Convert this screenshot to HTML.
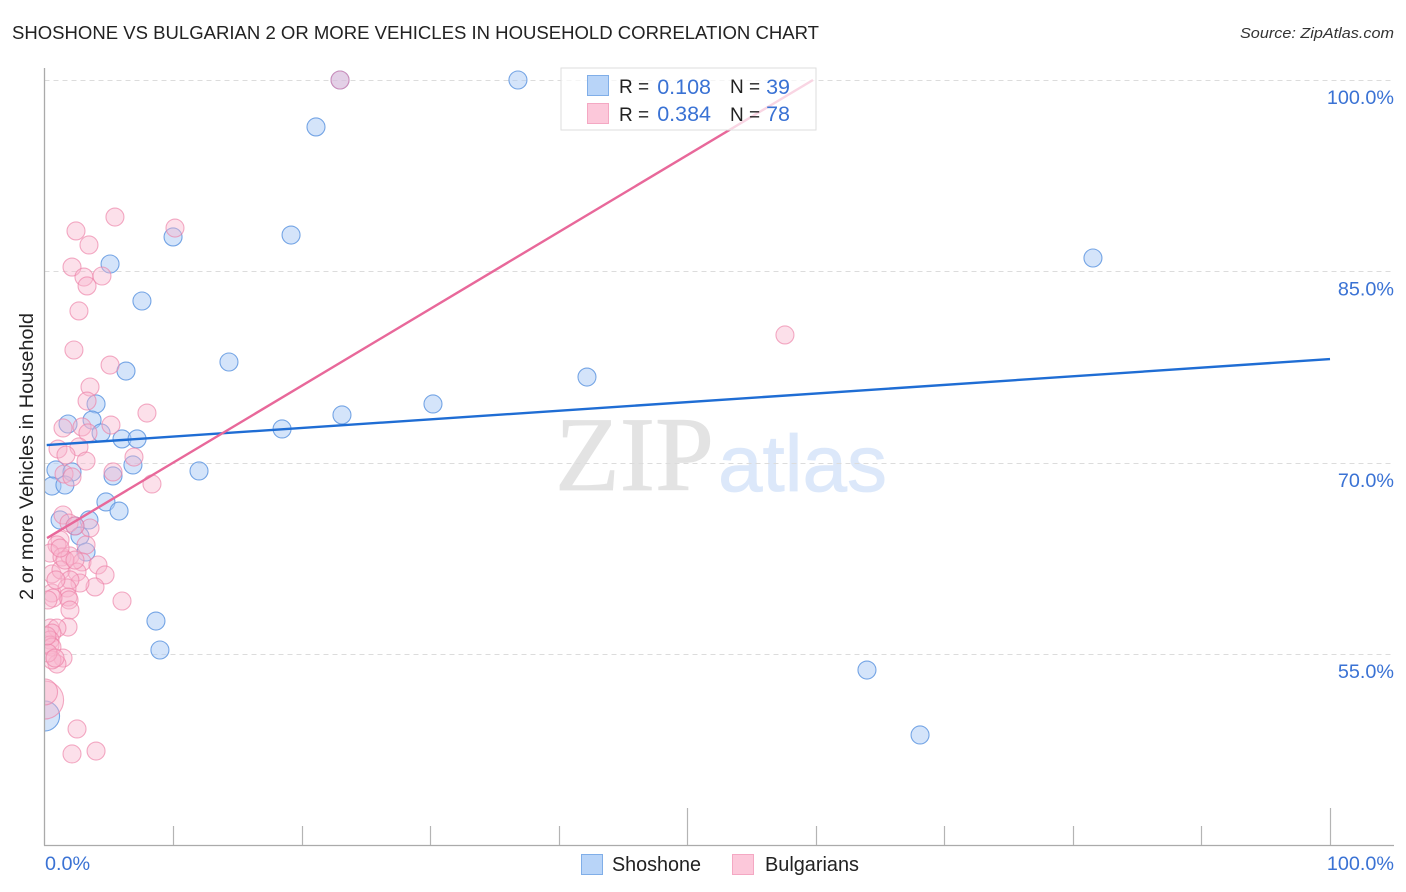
<!DOCTYPE html>
<html lang="en">
<head>
<meta charset="utf-8">
<title>Shoshone vs Bulgarian 2 or more Vehicles in Household Correlation Chart</title>
<style>
html,body{margin:0;padding:0;background:#fff;width:1406px;height:892px;overflow:hidden}
svg{display:block;font-family:"Liberation Sans",sans-serif}
</style>
</head>
<body>
<svg id="chart" xmlns="http://www.w3.org/2000/svg" width="1406" height="892" viewBox="0 0 1406 892">
  <rect width="1406" height="892" fill="#fff"/>
  <text x="12" y="39" font-size="18" fill="#222" textLength="807" lengthAdjust="spacingAndGlyphs">SHOSHONE VS BULGARIAN 2 OR MORE VEHICLES IN HOUSEHOLD CORRELATION CHART</text>
  <text x="1394" y="38" font-size="15" font-style="italic" fill="#333" text-anchor="end" textLength="154" lengthAdjust="spacingAndGlyphs">Source: ZipAtlas.com</text>
  <text x="555" y="490" font-size="106" fill="#e3e3e3" stroke="#e3e3e3" stroke-width="0.8" style="font-family:'Liberation Serif',serif">ZIP</text>
  <text x="718" y="491" font-size="80" fill="#dce8fa" stroke="#dce8fa" stroke-width="0.8">atlas</text>
  <g id="grid"></g>
  <g id="points-shoshone"></g>
  <g id="points-bulgarian"></g>
  <rect x="0" y="60" width="44.5" height="790" fill="#fff"/>
  <text transform="translate(33,456.5) rotate(-90)" font-size="19" fill="#222" text-anchor="middle" textLength="287" lengthAdjust="spacingAndGlyphs">2 or more Vehicles in Household</text>
  <g id="axes"></g>
  <g id="trends"></g>

  <g>
    <rect x="561" y="68" width="255" height="62" fill="#fff" fill-opacity="0.72" stroke="#dedede" stroke-width="1"/>
    <rect x="587.5" y="75.5" width="21" height="20" fill="#b8d4f8" stroke="#80aee8"/>
    <rect x="587.5" y="103.5" width="21" height="20" fill="#fcc8da" stroke="#f4a8c3"/>
    <text x="619" y="93" font-size="19" fill="#222">R =</text>
    <text x="711" y="94" font-size="21.5" fill="#3a72d4" text-anchor="end">0.108</text>
    <text x="730" y="93" font-size="19" fill="#222">N =</text>
    <text x="790" y="94" font-size="21.5" fill="#3a72d4" text-anchor="end">39</text>
    <text x="619" y="121" font-size="19" fill="#222">R =</text>
    <text x="711" y="121" font-size="21.5" fill="#3a72d4" text-anchor="end">0.384</text>
    <text x="730" y="121" font-size="19" fill="#222">N =</text>
    <text x="790" y="121" font-size="21.5" fill="#3a72d4" text-anchor="end">78</text>
  </g>

  <g>
    <rect x="581.5" y="854.5" width="21" height="20" fill="#b8d4f8" stroke="#80aee8"/>
    <text x="612" y="871" font-size="20" fill="#222" textLength="89" lengthAdjust="spacingAndGlyphs">Shoshone</text>
    <rect x="732.5" y="854.5" width="21" height="20" fill="#fcc8da" stroke="#f4a8c3"/>
    <text x="765" y="871" font-size="20" fill="#222" textLength="94" lengthAdjust="spacingAndGlyphs">Bulgarians</text>
  </g>
</svg>
<script>
const yTickValues = [100, 85, 70, 55];
const yTickLabels = ["100.0%", "85.0%", "70.0%", "55.0%"];
const xTickValues = [0, 10, 20, 30, 40, 50, 60, 70, 80, 90, 100];
const xEndLabels = ["0.0%", "100.0%"];

const shoshoneX = [0, 22.99, 36.83, 21.12, 10.0, 19.18, 81.56, 5.10, 7.58, 14.35, 6.34, 42.20, 4.01, 30.22, 23.14, 1.83, 3.70, 18.48, 4.40, 6.03, 7.20, 12.02, 6.88, 5.33, 0.89, 2.14, 0.58, 1.59, 4.78, 5.80, 1.21, 3.46, 2.37, 2.76, 3.23, 8.67, 8.98, 63.98, 68.11];
const shoshoneY = [50.16, 100, 100, 96.32, 87.70, 87.85, 86.05, 85.58, 82.68, 77.90, 77.19, 76.72, 74.61, 74.61, 73.75, 73.04, 73.35, 72.65, 72.34, 71.87, 71.87, 69.36, 69.83, 68.97, 69.44, 69.28, 68.18, 68.26, 66.93, 66.22, 65.52, 65.52, 65.05, 64.26, 63.01, 57.60, 55.33, 53.76, 48.67];
const shoshoneLeadingWeights = [2.8];

const bulgarianX = [0, 0, 22.99, 5.48, 10.15, 2.45, 3.46, 2.14, 3.07, 3.31, 4.47, 2.68, 2.29, 57.60, 5.10, 3.54, 3.31, 7.97, 1.44, 2.92, 5.17, 3.38, 1.05, 2.68, 1.67, 3.23, 6.96, 5.33, 1.52, 2.14, 8.36, 1.44, 1.91, 3.54, 2.37, 1.21, 3.23, 0.97, 0.43, 1.36, 1.98, 2.92, 4.16, 4.71, 0.58, 1.28, 2.53, 3.93, 2.76, 1.98, 0.58, 1.75, 1.83, 1.91, 0.66, 6.03, 1.98, 1.83, 0.43, 0.97, 0.58, 0.43, 0.43, 0.58, 1.44, 0.97, 0.58, 0.27, 0.82, 2.53, 2.14, 4.01, 0.89, 1.59, 0.27, 2.37, 0.19, 1.21];
const bulgarianY = [51.41, 52.04, 100, 89.26, 88.40, 88.17, 87.07, 85.34, 84.56, 83.86, 84.64, 81.90, 78.84, 80.02, 77.66, 75.94, 74.84, 73.90, 72.73, 72.81, 72.96, 72.34, 71.08, 71.24, 70.61, 70.14, 70.45, 69.28, 69.12, 68.89, 68.34, 65.91, 65.28, 64.89, 65.05, 63.95, 63.56, 63.56, 62.93, 62.62, 62.70, 62.23, 61.99, 61.21, 61.29, 61.60, 61.44, 60.27, 60.58, 60.82, 59.80, 60.19, 59.48, 59.25, 59.40, 59.17, 58.46, 57.13, 57.05, 57.05, 56.66, 56.11, 55.72, 55.56, 54.70, 54.23, 54.55, 55.09, 54.70, 49.14, 47.18, 47.41, 60.82, 62.38, 59.25, 62.38, 56.43, 63.32];
const bulgarianLeadingWeights = [4.5, 2.1];

const shoshoneTrendX = [0.17, 100];
const shoshoneTrendY = [71.39, 78.13];
const bulgarianTrendX = [0.2, 59.78];
const bulgarianTrendY = [64.1, 100];

const NS = 'http://www.w3.org/2000/svg';
const xScale = v => 44.5 + v * 12.855;
const yScale = v => 80 + (100 - v) * 12.76;
const radiusScale = w => 9 * Math.sqrt(w);

function make(tag, attrs, parent) {
  const el = document.createElementNS(NS, tag);
  for (const k in attrs) el.setAttribute(k, attrs[k]);
  parent.appendChild(el);
  return el;
}

const gridG = document.getElementById('grid');
const axesG = document.getElementById('axes');

yTickValues.forEach((v, i) => {
  const y = Math.round(yScale(v)) + 0.5;
  const line = make('line', {x1: 44.5, x2: 1394, y1: y, y2: y, stroke: '#dcdcdc', 'stroke-width': 1, 'stroke-dasharray': '5 4'}, gridG);
  
  
  const label = make('text', {x: 1394, y: yScale(v) + 24, 'font-size': 19.8, fill: '#3a72d4', 'text-anchor': 'end'}, axesG);
  label.textContent = yTickLabels[i];
  
  
});

const yAxisLine = make('line', {x1: 44.5, x2: 44.5, y1: 68, y2: 845.5, stroke: '#aaa', 'stroke-width': 1.3}, axesG);


const xAxisLine = make('line', {x1: 44, x2: 1394, y1: 845.5, y2: 845.5, stroke: '#aaa', 'stroke-width': 1.3}, axesG);



xTickValues.forEach(v => {
  if (v === 0) return;
  const major = v === 50 || v === 100;
  const x = Math.round(xScale(v)) + 0.5;
  const tick = make('line', {x1: x, x2: x, y1: major ? 808 : 826, y2: 845, stroke: '#b4b4b4', 'stroke-width': 1.2}, axesG);
  
  
});

const xLabelStart = make('text', {x: 45, y: 870, 'font-size': 19.8, fill: '#3a72d4'}, axesG);
xLabelStart.textContent = xEndLabels[0];


const xLabelEnd = make('text', {x: 1394, y: 870, 'font-size': 19.8, fill: '#3a72d4', 'text-anchor': 'end'}, axesG);
xLabelEnd.textContent = xEndLabels[1];



const shoshoneG = document.getElementById('points-shoshone');
shoshoneX.forEach((v, i) => {
  const w = i < shoshoneLeadingWeights.length ? shoshoneLeadingWeights[i] : 1;
  const c = make('circle', {cx: xScale(v), cy: yScale(shoshoneY[i]), r: radiusScale(w), fill: '#a9c9f5', 'fill-opacity': 0.5, stroke: '#5f97e0', 'stroke-opacity': 0.85, 'stroke-width': 1.1}, shoshoneG);
  
  
});

const bulgarianG = document.getElementById('points-bulgarian');
bulgarianX.forEach((v, i) => {
  const w = i < bulgarianLeadingWeights.length ? bulgarianLeadingWeights[i] : 1;
  const c = make('circle', {cx: xScale(v), cy: yScale(bulgarianY[i]), r: radiusScale(w), fill: '#f9b4cc', 'fill-opacity': 0.42, stroke: '#ec7fa6', 'stroke-opacity': 0.65, 'stroke-width': 1.1}, bulgarianG);
  
  
});

const trendG = document.getElementById('trends');
const shoshoneTrend = make('line', {x1: xScale(shoshoneTrendX[0]), y1: yScale(shoshoneTrendY[0]), x2: xScale(shoshoneTrendX[1]), y2: yScale(shoshoneTrendY[1]), stroke: '#1f6dd4', 'stroke-width': 2.4}, trendG);


const bulgarianTrend = make('line', {x1: xScale(bulgarianTrendX[0]), y1: yScale(bulgarianTrendY[0]), x2: xScale(bulgarianTrendX[1]), y2: yScale(bulgarianTrendY[1]), stroke: '#e8689a', 'stroke-width': 2.4}, trendG);


</script>
</body>
</html>
